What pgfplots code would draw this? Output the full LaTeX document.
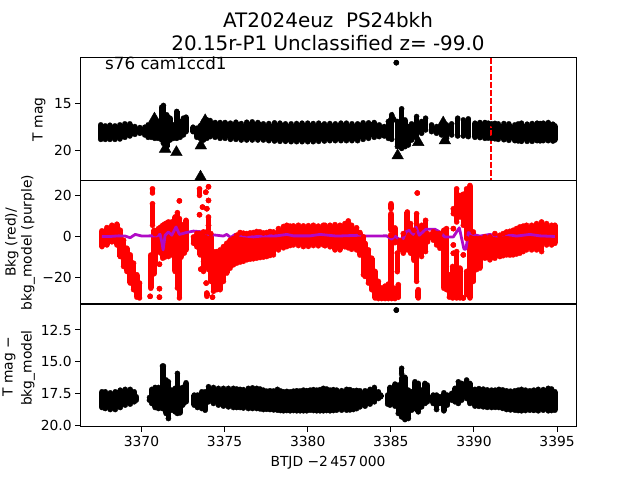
\documentclass[border=0pt]{standalone}
\usepackage{pgfplots}
\usepackage{pgfplotstable}
\usepackage{fontspec}
\setmainfont{DejaVu Sans}
\pgfplotsset{compat=1.18}
\definecolor{purp}{HTML}{B00AC6}
\pgfplotstableread{
x a b
3367.55 17.32 18.86
3367.82 17.43 18.86
3368.10 17.36 18.86
3368.40 17.43 18.86
3368.70 17.32 18.82
3369.00 17.21 18.64
3369.30 17.21 18.50
3369.60 17.50 18.32
3369.90 17.61 18.21
3370.20 17.57 18.39
3370.40 17.32 18.64
3370.60 17.21 18.64
3370.80 17.07 18.75
3371.00 16.96 18.75
3371.22 15.43 18.93
3371.32 15.25 19.29
3371.52 16.25 19.64
3371.72 16.61 18.93
3371.92 17.32 18.75
3372.12 15.89 18.75
3372.32 16.96 18.64
3372.52 16.61 18.39
3372.68 16.50 18.04
3373.10 17.57 18.04
3373.33 17.68 18.64
3373.53 17.43 18.75
3373.73 16.96 18.93
3373.93 16.79 18.75
3374.13 16.86 18.57
3374.43 17.07 18.64
3374.73 17.07 18.75
3375.03 17.07 18.75
3375.35 17.14 18.86
3375.68 17.04 18.86
3376.00 17.18 18.93
3376.33 17.04 18.93
3376.66 17.00 18.93
3377.00 17.07 18.93
3377.33 17.21 18.93
3377.66 17.18 19.00
3378.00 17.10 19.04
3378.33 17.14 19.07
3378.66 17.21 19.07
3379.00 17.21 19.11
3379.33 17.18 19.11
3379.66 17.14 19.11
3380.00 17.14 19.11
3380.33 17.18 19.11
3380.66 17.14 19.07
3381.00 17.21 19.04
3381.33 17.18 19.00
3381.66 17.21 19.00
3382.00 17.14 19.00
3382.33 17.14 19.00
3382.66 17.21 19.00
3383.00 17.21 19.00
3383.33 17.10 18.86
3383.66 17.10 18.75
3384.00 17.07 18.64
3384.30 17.32 18.57
3384.60 17.50 18.50
3384.85 16.96 18.75
3385.05 16.25 18.86
3385.40 16.96 19.64
3385.65 15.61 19.82
3385.85 16.79 19.64
3386.05 17.50 19.46
3386.25 17.21 18.93
3386.55 16.43 18.75
3386.85 16.96 18.21
3387.09 16.61 17.86
3387.45 17.32 18.04
3387.75 17.50 18.21
3388.05 17.32 18.39
3388.35 17.32 18.75
3388.66 17.21 18.39
3389.02 16.61 18.50
3389.36 16.79 18.50
3389.66 16.68 18.57
3390.06 17.14 18.64
3390.36 17.07 18.68
3390.66 17.07 18.75
3390.86 17.14 18.73
3391.06 17.21 18.75
3391.26 17.16 18.80
3391.46 17.21 18.86
3391.80 17.18 18.90
3392.10 17.21 18.96
3392.46 17.32 19.00
3392.66 17.22 19.03
3392.86 17.14 19.07
3393.20 17.25 19.07
3393.50 17.18 19.07
3393.80 17.14 19.00
3393.98 17.18 19.02
3394.17 17.14 19.00
3394.47 17.07 19.00
3394.75 17.25 19.04
3394.87 17.43 18.93
3385.33 10.70 10.70
}\tabTop
\pgfplotstableread{
x y
3370.78 16.68
3371.42 19.89
3372.10 20.25
3373.55 22.86
3373.83 16.86
3373.57 19.54
3385.09 16.68
3385.41 20.60
3386.65 19.18
3388.15 17.10
3388.25 19.00
}\tabTri
\pgfplotstableread{
x a b
3367.62 -4.9 2.7
3367.92 -4.1 4.3
3368.22 -2.6 5.4
3368.52 -4.1 5.9
3368.72 -9.7 3.0
3368.92 -14.5 -1.8
3369.12 -16.9 -5.7
3369.32 -22.5 -8.9
3369.52 -25.7 -12.9
3369.72 -29.3 -18.5
3369.88 -29.7 -22.5
3370.66 21.0 23.0
3370.66 5.4 15.8
3370.56 -25.0 -9.0
3370.52 -28.9 -28.9
3370.76 -18.0 3.0
3371.08 -25.2 -25.2
3371.08 -29.3 -29.3
3371.08 -13.4 -13.4
3370.82 -12.1 1.4
3371.02 -7.3 3.8
3371.15 -8.0 4.5
3371.28 -10.5 5.4
3371.40 -10.0 6.0
3371.52 -9.0 6.5
3371.62 -9.7 7.0
3371.82 -8.9 7.0
3372.02 -16.9 9.4
3372.16 -24.9 11.5
3372.28 -29.7 8.6
3372.28 17.2 17.2
3372.38 -10.0 5.0
3372.48 -8.1 3.8
3372.58 -8.0 6.0
3372.68 -6.5 7.8
3373.13 -3.3 -0.2
3373.33 -5.0 1.4
3373.53 -8.9 1.4
3373.73 -12.1 2.2
3373.93 -8.9 2.2
3374.03 -16.0 5.4
3374.17 -21.7 1.4
3373.49 19.8 23.0
3373.49 10.5 10.5
3374.03 24.0 24.0
3373.87 21.4 21.4
3374.03 17.4 17.4
3373.67 14.2 14.2
3373.93 13.4 13.4
3374.03 5.4 9.4
3373.73 -16.9 -7.3
3373.57 -15.8 -15.8
3373.89 -22.5 -22.5
3373.93 -28.9 -27.3
3374.27 -29.3 -29.3
3374.33 -26.5 -7.3
3374.53 -25.7 -7.3
3374.73 -25.7 -6.5
3374.93 -21.7 -4.9
3375.13 -17.7 -3.3
3375.33 -15.3 -1.8
3375.53 -13.7 -1.0
3375.73 -12.9 0.6
3375.93 -12.4 1.9
3376.13 -12.0 1.6
3376.33 -11.3 1.4
3376.53 -11.0 1.7
3376.73 -10.8 1.9
3376.93 -10.5 2.4
3377.13 -10.2 2.2
3377.33 -10.0 1.7
3377.53 -9.7 1.9
3377.73 -9.2 2.4
3377.94 -8.9 2.2
3378.24 -6.5 3.8
3378.54 -5.5 4.8
3378.74 -4.9 5.4
3378.94 -4.4 5.0
3379.14 -4.1 5.1
3379.44 -4.4 5.4
3379.74 -4.9 5.1
3380.04 -4.8 5.2
3380.34 -4.4 5.4
3380.64 -4.5 5.0
3380.94 -4.1 5.4
3381.04 -4.5 5.4
3381.34 -5.0 5.4
3381.64 -6.5 5.7
3381.94 -6.5 5.4
3382.24 -5.0 6.2
3382.44 -5.5 7.5
3382.64 -6.2 5.4
3382.94 -6.5 4.2
3383.14 -9.0 1.9
3383.35 -18.5 -0.2
3383.45 -19.3 -3.3
3383.65 -22.5 -6.5
3383.85 -25.7 -10.5
3384.05 -29.7 -16.9
3384.25 -30.0 -21.7
3384.45 -30.0 -24.9
3384.65 -30.0 -24.0
3384.85 -30.0 -23.0
3384.99 -25.0 0.6
3385.05 -30.0 0.6
3385.01 13.4 15.8
3385.01 3.0 11.0
3385.25 -30.0 -25.0
3385.25 -3.0 4.1
3385.39 -17.0 -8.0
3385.45 -29.4 -23.3
3385.55 -6.5 -2.0
3385.75 -8.1 1.4
3385.99 -6.5 11.8
3386.19 -8.1 6.2
3386.39 -11.5 3.0
3386.55 -21.7 11.0
3386.59 21.0 21.0
3386.65 -29.7 -25.7
3386.85 -9.7 5.4
3387.09 -7.3 7.8
3387.21 -2.6 1.4
3387.55 -1.8 2.2
3387.75 -4.1 1.4
3387.95 -5.7 1.4
3388.19 -25.0 3.0
3388.35 -25.7 3.8
3388.52 -29.3 -18.5
3388.72 -29.7 -14.5
3388.76 11.0 13.4
3388.76 3.8 3.8
3388.76 -4.1 -4.1
3388.76 -8.1 -8.1
3388.96 7.0 23.0
3388.96 -29.7 -7.3
3389.16 9.4 19.8
3389.16 -29.7 -15.3
3389.36 5.4 20.4
3389.36 -8.9 -8.9
3389.36 -29.7 -29.7
3389.56 -1.0 23.0
3389.56 -28.0 -16.9
3389.76 -29.7 24.6
3389.96 -21.7 2.2
3390.16 -16.0 -1.0
3390.36 -15.3 -1.0
3390.66 -10.5 -0.2
3390.96 -11.3 -0.2
3391.26 -10.5 1.4
3391.56 -9.7 0.6
3391.76 -9.3 1.4
3391.96 -8.9 2.2
3392.16 -9.0 2.5
3392.36 -8.9 3.0
3392.56 -8.5 3.8
3392.76 -8.1 4.6
3392.96 -7.3 5.0
3393.16 -6.5 5.4
3393.47 -6.5 5.4
3393.77 -6.5 6.2
3394.07 -7.3 7.0
3394.37 -4.1 6.2
3394.67 -4.1 5.4
3394.87 -3.3 5.4
}\tabMid
\pgfplotstableread{
x y
3367.62 0.0
3368.12 0.0
3368.62 0.3
3369.02 0.2
3369.32 -0.6
3369.62 1.0
3370.02 0.2
3370.52 0.3
3370.92 0.3
3371.12 1.0
3371.22 -2.6
3371.30 -6.5
3371.42 0.6
3371.62 2.2
3371.82 0.6
3372.08 4.6
3372.28 1.0
3372.48 1.4
3372.68 1.9
3373.13 2.6
3373.73 2.2
3374.03 1.0
3374.53 0.6
3374.93 0.2
3375.13 1.0
3375.37 -0.5
3375.63 1.0
3376.13 0.3
3376.73 -0.2
3377.33 0.3
3378.14 0.3
3378.74 1.0
3379.14 0.3
3380.14 0.3
3380.74 1.0
3381.74 0.2
3383.14 0.6
3383.45 0.2
3384.75 0.3
3385.05 -1.3
3385.25 0.2
3385.49 -1.3
3385.75 -1.0
3385.91 2.2
3386.11 3.0
3386.35 1.0
3386.51 4.6
3386.71 0.6
3387.11 3.5
3387.65 3.5
3387.95 2.2
3388.25 -0.2
3388.76 -0.2
3389.12 4.2
3389.26 -1.0
3389.40 -6.1
3389.52 -6.1
3389.66 1.9
3389.96 1.0
3390.36 0.2
3390.96 1.0
3391.36 0.2
3391.96 1.0
3392.56 0.2
3393.36 1.0
3393.97 0.3
3394.87 0.0
}\tabPur
\pgfplotstableread{
x a b
3367.62 17.37 18.61
3367.82 17.37 18.69
3368.12 17.45 18.77
3368.42 17.37 18.77
3368.72 17.24 18.61
3369.02 17.18 18.42
3369.32 17.18 18.34
3369.56 17.37 18.16
3369.68 17.76 18.03
3370.48 17.82 18.03
3370.62 17.18 18.29
3370.82 17.03 18.61
3371.02 17.03 18.69
3371.26 15.34 18.69
3371.32 15.34 18.69
3371.48 16.44 19.08
3371.62 16.58 19.48
3371.82 17.24 18.82
3372.02 17.10 18.95
3372.16 15.92 19.08
3372.32 17.10 19.03
3372.48 17.03 18.42
3372.68 16.66 18.16
3373.17 17.63 18.42
3373.37 17.63 18.61
3373.63 17.37 18.69
3373.83 17.37 18.82
3374.03 16.97 18.16
3374.33 17.03 18.29
3374.63 17.10 18.42
3374.93 17.10 18.50
3375.23 17.10 18.56
3375.53 17.10 18.61
3375.73 17.15 18.61
3375.93 17.18 18.61
3376.13 17.20 18.65
3376.43 17.10 18.69
3376.68 17.06 18.69
3376.93 17.10 18.69
3377.13 17.15 18.72
3377.33 17.24 18.77
3377.53 17.32 18.75
3377.73 17.29 18.77
3377.95 17.30 18.80
3378.18 17.18 18.82
3378.36 17.30 18.85
3378.54 17.37 18.87
3378.74 17.34 18.85
3378.94 17.37 18.87
3379.14 17.32 18.85
3379.34 17.29 18.87
3379.54 17.30 18.87
3379.74 17.24 18.87
3379.94 17.28 18.87
3380.14 17.24 18.82
3380.34 17.20 18.85
3380.54 17.24 18.87
3380.74 17.20 18.87
3380.94 17.10 18.87
3381.14 17.15 18.85
3381.34 17.24 18.87
3381.54 17.20 18.85
3381.74 17.24 18.82
3382.04 17.28 18.82
3382.34 17.18 18.82
3382.54 17.20 18.80
3382.74 17.29 18.77
3382.94 17.26 18.70
3383.14 17.29 18.56
3383.45 17.29 18.50
3383.75 17.18 18.34
3384.01 17.03 18.16
3384.25 17.37 17.90
3384.39 17.63 17.76
3384.81 17.63 18.34
3384.95 17.03 18.42
3385.25 16.76 18.50
3385.45 16.84 19.08
3385.65 15.52 15.97
3385.65 16.30 19.35
3385.85 16.23 19.56
3386.05 17.24 19.48
3386.25 17.37 18.82
3386.45 16.58 18.69
3386.65 16.71 18.95
3386.85 17.24 18.56
3387.05 16.71 18.29
3387.19 16.84 18.16
3387.55 17.63 18.29
3387.75 17.63 18.77
3387.95 17.76 18.29
3388.19 17.45 18.87
3388.39 17.63 18.42
3388.66 17.50 18.03
3388.86 17.10 18.16
3389.06 16.58 18.29
3389.26 16.71 18.03
3389.56 16.44 17.90
3389.76 16.71 18.29
3390.06 17.18 18.50
3390.30 17.12 18.52
3390.56 17.16 18.56
3390.80 17.22 18.60
3391.06 17.24 18.61
3391.28 17.24 18.60
3391.50 17.18 18.61
3391.73 17.22 18.68
3391.96 17.29 18.77
3392.20 17.32 18.80
3392.46 17.29 18.82
3392.66 17.24 18.85
3392.86 17.18 18.87
3393.10 17.24 18.85
3393.36 17.29 18.82
3393.60 17.24 18.84
3393.87 17.18 18.87
3394.17 17.20 18.82
3394.47 17.10 18.87
3394.67 17.15 18.85
3394.87 17.37 18.82
3385.33 10.93 10.93
}\tabBot
\pgfplotsset{
  panel/.style={
    scale only axis, width=496bp, height=123bp,
    anchor=south west, xmin=3366.3, xmax=3396.14,
    axis line style={line width=1bp},
    tick style={black, line width=1bp},
    major tick length=4.86bp, tick align=outside,
    xtick pos=bottom, ytick pos=left,
    tick label style={font=\fontsize{13.9}{16}\selectfont},
    xticklabel style={yshift=-1bp},
    scaled ticks=false,
    clip=true,
  },
  dots/.style={only marks, mark=*, mark size=2.6bp, color=#1,
    mark options={fill=#1, draw=#1, line width=0.2bp},
    error bars/.cd, y dir=plus, y explicit, error mark=none,
    error bar style={line width=5.6bp, color=#1}},
}
\begin{document}
\begin{tikzpicture}[x=1bp,y=1bp]
\useasboundingbox (0,0) rectangle (640,480);
\begin{axis}[panel, at={(80bp,299bp)}, y dir=reverse, ymin=10.2, ymax=23.3,
  xtick=\empty, ytick={15,20}, yticklabels={15,20}]
\addplot[dots=black] table[x=x,y=a,y error expr=\thisrow{b}-\thisrow{a}] {\tabTop};
\addplot[only marks, mark=*, mark size=2.6bp, black] table[x=x,y=b] {\tabTop};
\addplot[only marks, mark=triangle*, mark size=6.7bp, black] table[x=x,y=y] {\tabTri};
\addplot[red, line width=2bp, dash pattern=on 5.6bp off 2.4bp] coordinates {(3391.02,10.2) (3391.02,23.3)};
\end{axis}
\begin{axis}[panel, at={(80bp,176bp)}, ymin=-32.6, ymax=26.8,
  xtick=\empty, ytick={-20,0,20}, yticklabels={−20,0,20}]
\addplot[dots=red] table[x=x,y=a,y error expr=\thisrow{b}-\thisrow{a}] {\tabMid};
\addplot[only marks, mark=*, mark size=2.6bp, red] table[x=x,y=b] {\tabMid};
\addplot[purp, line width=2.8bp, line join=round] table[x=x,y=y] {\tabPur};
\end{axis}
\begin{axis}[panel, at={(80bp,53bp)}, y dir=reverse, ymin=10.45, ymax=20.15,
  xtick={3370,3375,3380,3385,3390,3395},
  xticklabels={3370,3375,3380,3385,3390,3395},
  ytick={12.5,15,17.5,20}, yticklabels={12.5,15.0,17.5,20.0}]
\addplot[dots=black] table[x=x,y=a,y error expr=\thisrow{b}-\thisrow{a}] {\tabBot};
\addplot[only marks, mark=*, mark size=2.6bp, black] table[x=x,y=b] {\tabBot};
\end{axis}
\node[align=center, font=\fontsize{20}{23}\selectfont, anchor=center] at (328,448) {AT2024euz\ \ PS24bkh\\20.15r-P1 Unclassified z= -99.0};
\node[anchor=base west, inner sep=0pt, font=\fontsize{16.8}{20}\selectfont] at (105,410) {s76 cam1ccd1};
\node[font=\fontsize{13.9}{16}\selectfont, rotate=90, anchor=center] at (39,360.5) {T mag};
\node[font=\fontsize{13.9}{16}\selectfont, rotate=90, anchor=base, inner sep=0pt] at (15.5,237.5) {Bkg (red)/};
\node[font=\fontsize{13.9}{16}\selectfont, rotate=90, anchor=base, inner sep=0pt] at (31.5,237.5) {bkg\_model (purple)};
\node[font=\fontsize{13.9}{16}\selectfont, rotate=90, anchor=base, inner sep=0pt] at (12.5,113) {T mag −};
\node[font=\fontsize{13.9}{16}\selectfont, rotate=90, anchor=base, inner sep=0pt] at (31.5,112) {bkg\_model};
\node[font=\fontsize{13.9}{16}\selectfont, anchor=center] at (328,17) {BTJD −2\,457\,000};
\end{tikzpicture}
\end{document}
